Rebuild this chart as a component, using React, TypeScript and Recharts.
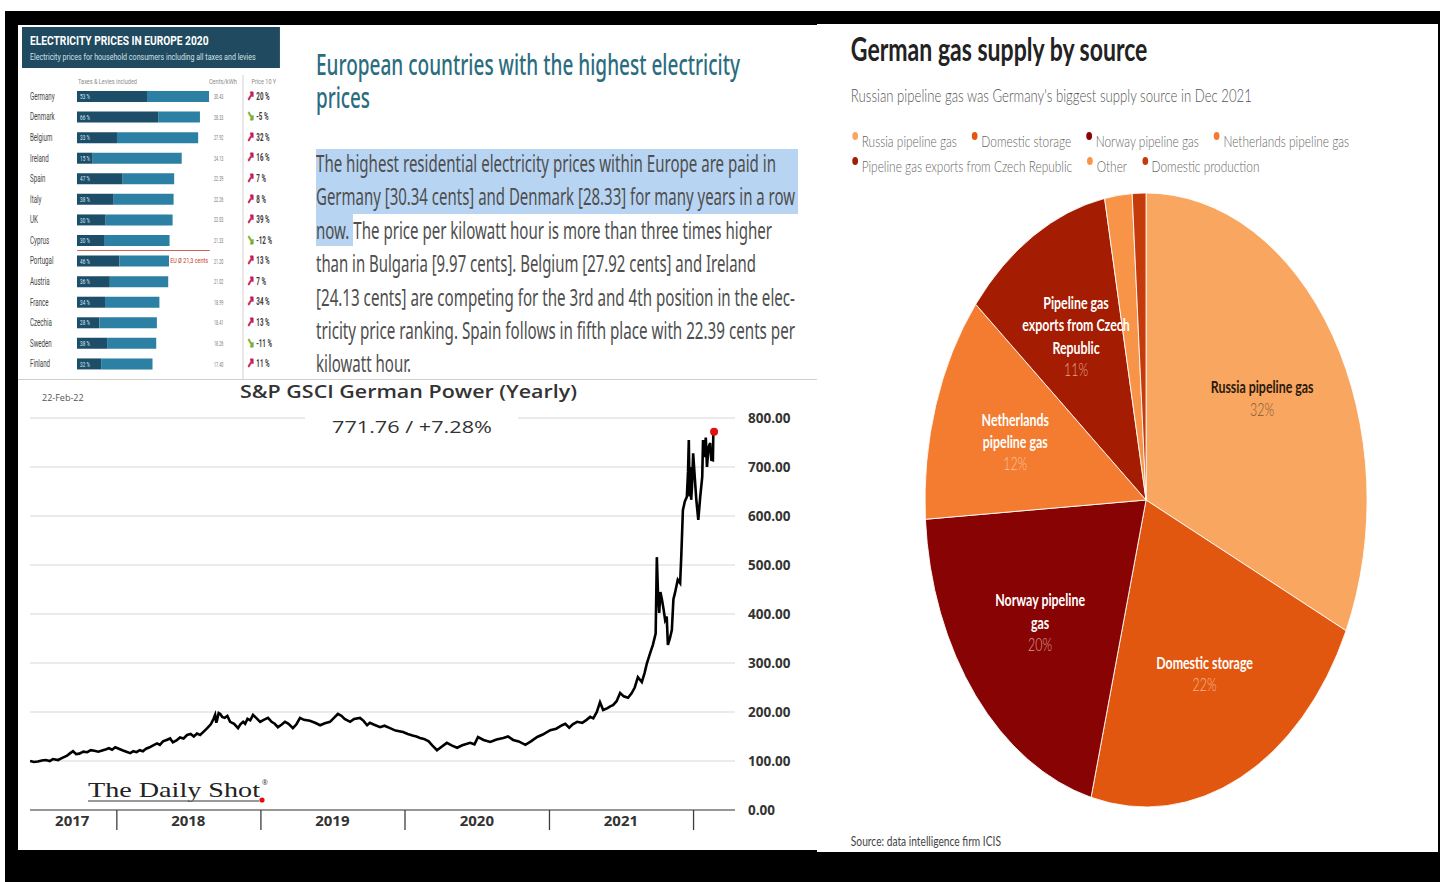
import React from 'react';
import {
  BarChart, Bar, XAxis, YAxis, LabelList,
  LineChart, Line, CartesianGrid, ReferenceDot,
  PieChart, Pie, Cell,
} from 'recharts';

// ---- Electricity prices in Europe 2020 (table chart) ----
const countries = ['Germany', 'Denmark', 'Belgium', 'Ireland', 'Spain', 'Italy', 'UK', 'Cyprus', 'Portugal', 'Austria', 'France', 'Czechia', 'Sweden', 'Finland'];
const centsPerKwh = [30.43, 28.33, 27.92, 24.13, 22.39, 22.26, 22.03, 21.33, 21.20, 21.02, 18.99, 18.41, 18.26, 17.40];
const taxShare = [53, 66, 33, 15, 47, 38, 30, 30, 46, 36, 34, 28, 38, 32];
const change10y = [20, -5, 32, 16, 7, 8, 39, -12, 13, 7, 34, 13, -11, 11];

// ---- S&P GSCI German Power (Yearly) ----
const powerDates = [
  '2017-05-26', '2017-06-05', '2017-06-15', '2017-06-25', '2017-07-05', '2017-07-15', '2017-07-23', '2017-08-05',
  '2017-08-12', '2017-08-20', '2017-08-28', '2017-09-05', '2017-09-12', '2017-09-20', '2017-09-28', '2017-10-08',
  '2017-10-18', '2017-10-27', '2017-11-05', '2017-11-15', '2017-11-27', '2017-12-05', '2017-12-12', '2017-12-20',
  '2017-12-28', '2018-01-06', '2018-01-15', '2018-01-25', '2018-02-04', '2018-02-12', '2018-02-20', '2018-02-28',
  '2018-03-08', '2018-03-16', '2018-03-25', '2018-04-03', '2018-04-13', '2018-04-20', '2018-04-28', '2018-05-07',
  '2018-05-16', '2018-05-23', '2018-06-01', '2018-06-10', '2018-06-19', '2018-06-28', '2018-07-07', '2018-07-15',
  '2018-07-23', '2018-07-31', '2018-08-09', '2018-08-18', '2018-08-27', '2018-09-03', '2018-09-07', '2018-09-10',
  '2018-09-12', '2018-09-16', '2018-09-20', '2018-09-25', '2018-10-01', '2018-10-08', '2018-10-15', '2018-10-25',
  '2018-11-04', '2018-11-10', '2018-11-17', '2018-11-22', '2018-11-28', '2018-12-05', '2018-12-12', '2018-12-20',
  '2018-12-30', '2019-01-08', '2019-01-19', '2019-01-28', '2019-02-05', '2019-02-13', '2019-02-22', '2019-03-03',
  '2019-03-12', '2019-03-23', '2019-04-01', '2019-04-10', '2019-04-20', '2019-05-05', '2019-05-18', '2019-05-31',
  '2019-06-12', '2019-06-25', '2019-07-05', '2019-07-15', '2019-07-24', '2019-08-01', '2019-08-08', '2019-08-15',
  '2019-08-25', '2019-09-09', '2019-09-18', '2019-09-27', '2019-10-04', '2019-10-15', '2019-10-30', '2019-11-10',
  '2019-11-24', '2019-12-08', '2019-12-27', '2020-01-08', '2020-01-20', '2020-01-30', '2020-02-08', '2020-02-18',
  '2020-03-01', '2020-03-10', '2020-03-22', '2020-04-01', '2020-04-16', '2020-04-28', '2020-05-12', '2020-05-25',
  '2020-06-14', '2020-06-25', '2020-07-04', '2020-07-18', '2020-08-04', '2020-08-20', '2020-09-06', '2020-09-18',
  '2020-10-01', '2020-10-15', '2020-11-01', '2020-11-15', '2020-12-01', '2020-12-15', '2021-01-03', '2021-01-18',
  '2021-02-02', '2021-02-10', '2021-02-20', '2021-03-01', '2021-03-12', '2021-03-25', '2021-04-05', '2021-04-14',
  '2021-04-22', '2021-05-01', '2021-05-09', '2021-05-17', '2021-05-28', '2021-06-05', '2021-06-11', '2021-06-20',
  '2021-06-29', '2021-07-08', '2021-07-19', '2021-07-28', '2021-08-05', '2021-08-13', '2021-08-23', '2021-08-30',
  '2021-09-05', '2021-09-13', '2021-09-20', '2021-09-27', '2021-09-30', '2021-10-03', '2021-10-06', '2021-10-09',
  '2021-10-13', '2021-10-17', '2021-10-21', '2021-10-25', '2021-10-28', '2021-11-02', '2021-11-07', '2021-11-11',
  '2021-11-15', '2021-11-22', '2021-11-28', '2021-12-01', '2021-12-05', '2021-12-10', '2021-12-15', '2021-12-18',
  '2021-12-20', '2021-12-22', '2021-12-24', '2021-12-26', '2021-12-28', '2021-12-31', '2022-01-04', '2022-01-08',
  '2022-01-13', '2022-01-18', '2022-01-23', '2022-01-25', '2022-01-29', '2022-02-01', '2022-02-04', '2022-02-08',
  '2022-02-12', '2022-02-15', '2022-02-19', '2022-02-20', '2022-02-22',
];
const powerValues = [
  100, 98, 99, 101, 102, 100, 104, 102,
  105, 108, 111, 116, 120, 114, 115, 119,
  118, 122, 121, 119, 122, 124, 126, 123,
  128, 125, 122, 119, 116, 120, 118, 122,
  120, 125, 128, 132, 136, 133, 140, 143,
  146, 138, 142, 148, 146, 153, 155, 150,
  156, 153, 160, 167, 175, 186, 194, 178,
  184, 198, 196, 190, 188, 192, 180, 176,
  167, 175, 180, 176, 186, 183, 194, 188,
  180, 184, 188, 180, 176, 169, 174, 180,
  176, 167, 175, 188, 184, 182, 178, 173,
  177, 180, 188, 196, 192, 186, 183, 180,
  186, 188, 182, 173, 178, 174, 169, 172,
  167, 162, 159, 155, 152, 150, 147, 145,
  140, 132, 122, 128, 137, 132, 127, 132,
  137, 134, 149, 143, 139, 144, 147, 150,
  143, 140, 133, 140, 149, 154, 163, 166,
  173, 176, 168, 175, 180, 178, 184, 190,
  187, 200, 220, 204, 208, 212, 214, 222,
  239, 232, 229, 238, 250, 271, 261, 280,
  300, 320, 337, 360, 516, 440, 402, 445,
  429, 410, 388, 395, 337, 350, 367, 430,
  443, 470, 463, 520, 612, 630, 639, 690,
  755, 640, 700, 633, 660, 728, 680, 633,
  592, 640, 680, 755, 720, 760, 700, 740,
  749, 715, 714, 765, 771.76,
];
const powerTicks = [0, 100, 200, 300, 400, 500, 600, 700, 800];
const yearBreaks = ['2018-01-01', '2019-01-01', '2020-01-01', '2021-01-01', '2022-01-01'];
const yearLabelDates = ['2017-09-10', '2018-07-01', '2019-07-01', '2020-07-01', '2021-07-01'];
const powerStart = '2017-05-26';
const powerEnd = '2022-04-16';

// ---- German gas supply by source ----
const gasSources = ['Russia pipeline gas', 'Domestic storage', 'Norway pipeline gas', 'Netherlands pipeline gas', 'Pipeline gas exports from Czech Republic', 'Other', 'Domestic production'];
const gasShares = [32, 22, 20, 12, 11, 2, 1];
const gasColors = ['#f8a660', '#e2570f', '#880303', '#f37c30', '#a41c02', '#f79448', '#c53a0b'];
const gasLabelLines = [['Russia pipeline gas'], ['Domestic storage'], ['Norway pipeline', 'gas'], ['Netherlands', 'pipeline gas'], ['Pipeline gas', 'exports from Czech', 'Republic'], [], []];

const FONT_TABLE = "Roboto, 'Noto Sans', sans-serif";
const FONT_TEXT = "'Noto Sans', 'Open Sans', sans-serif";
const FONT_POWER = "'Open Sans', 'Noto Sans', sans-serif";
const FONT_GAS = "Lato, 'Noto Sans', sans-serif";
const RADIAN = Math.PI / 180;

const tableRows = countries.map((country, i) => ({
  country,
  taxed: (centsPerKwh[i] * taxShare[i]) / 100,
  untaxed: centsPerKwh[i] * (1 - taxShare[i] / 100),
  share: taxShare[i],
}));

const powerRows = powerDates.map((d, i) => ({t: Date.parse(d), price: powerValues[i]}));
const powerXTicks = [...yearBreaks, ...yearLabelDates].map((d) => Date.parse(d)).sort((a, b) => a - b);

const gasRows = gasSources.map((name, i) => ({name, value: gasShares[i]}));

// table ticks (coordinates are in the un-squeezed table space)
const CountryTick = (props: any) => {
  const {y, payload} = props;
  return (
    <text x={12.9} y={y} dy={3.6} fontSize={10} fill="#454545" fontFamily={FONT_TABLE}>
      {payload.value}
    </text>
  );
};

const PriceTick = (props: any) => {
  const {y, payload} = props;
  const i = countries.indexOf(payload.value);
  const up = change10y[i] > 0;
  const col = up ? '#c2185b' : '#7cac2c';
  return (
    <g fontFamily={FONT_TABLE}>
      <text x={309.7} y={y} dy={2.8} fontSize={8} fill="#7a7a7a" textLength={15} lengthAdjust="spacingAndGlyphs">
        {centsPerKwh[i].toFixed(2)}
      </text>
      <text x={363} y={y} dy={4.5} fontSize={14} fontWeight={700} fill={col} stroke={col} strokeWidth={0.9} fontFamily="'DejaVu Sans', sans-serif">
        {up ? '\u2197' : '\u2198'}
      </text>
      <text x={378} y={y} dy={3.4} fontSize={10} fontWeight={700} fill="#3a3a3a">
        {`${change10y[i]} %`}
      </text>
    </g>
  );
};

const ShareLabel = (props: any) => {
  const {x, y, height, value} = props;
  return (
    <text x={Number(x) + 5} y={Number(y) + Number(height) / 2 + 2.6} fontSize={7.5} fill="#dceaf2" fontFamily={FONT_TABLE}>
      {`${value} %`}
    </text>
  );
};

function ElectricityTable() {
  return (
    <div style={{position: 'absolute', left: 4, top: 0, width: 416, height: 355, transform: 'scaleX(0.62)', transformOrigin: '0 0'}}>
      <div style={{position: 'absolute', left: 0, top: 2, width: 416, height: 41, background: '#1f4a5f'}} />
      <svg width={416} height={355} style={{position: 'absolute', left: 0, top: 0}} fontFamily={FONT_TABLE}>
        <text x={12.9} y={20.5} fontSize={13} fontWeight={700} fill="#ffffff" textLength={288} lengthAdjust="spacingAndGlyphs">
          ELECTRICITY PRICES IN EUROPE 2020
        </text>
        <text x={12.9} y={35} fontSize={9.5} fill="#d3e0e8" textLength={364} lengthAdjust="spacingAndGlyphs">
          Electricity prices for household consumers including all taxes and levies
        </text>
        <text x={138} y={59} textAnchor="middle" fontSize={8} fill="#8a8a8a" textLength={95} lengthAdjust="spacingAndGlyphs">
          Taxes &amp; Levies included
        </text>
        <text x={324} y={59} textAnchor="middle" fontSize={8} fill="#8a8a8a" textLength={45} lengthAdjust="spacingAndGlyphs">
          Cents/kWh
        </text>
        <text x={390} y={59} textAnchor="middle" fontSize={8} fill="#8a8a8a" textLength={40} lengthAdjust="spacingAndGlyphs">
          Price 10 Y
        </text>
        <line x1={356.5} x2={356.5} y1={50} y2={355} stroke="#d2d2d2" strokeWidth={1.6} />
      </svg>
      <div style={{position: 'absolute', left: 0, top: 61}}>
        <BarChart width={416} height={288} data={tableRows} layout="vertical" margin={{top: 0, right: 0, bottom: 0, left: 0}} barSize={11}>
          <XAxis type="number" hide domain={[0, 32]} />
          <YAxis yAxisId="l" type="category" dataKey="country" width={88.7} axisLine={false} tickLine={false} interval={0} tick={<CountryTick />} />
          <YAxis yAxisId="r" orientation="right" type="category" dataKey="country" width={103.3} axisLine={false} tickLine={false} interval={0} tick={<PriceTick />} />
          <Bar yAxisId="l" dataKey="taxed" stackId="a" fill="#1c4e69" isAnimationActive={false}>
            <LabelList dataKey="share" content={<ShareLabel />} />
          </Bar>
          <Bar yAxisId="l" dataKey="untaxed" stackId="a" fill="#2b80a3" isAnimationActive={false} />
        </BarChart>
      </div>
      {/* EU average marker between Cyprus and Portugal */}
      <div style={{position: 'absolute', left: 88.7, top: 225, width: 214, height: 1, background: '#d06060'}} />
      <svg width={416} height={355} style={{position: 'absolute', left: 0, top: 0}} fontFamily={FONT_TABLE}>
        <text x={239} y={238} fontSize={7.5} fill="#c0392b" textLength={61} lengthAdjust="spacingAndGlyphs">
          EU Ø 21,3 cents
        </text>
      </svg>
    </div>
  );
}

const bodyLines = [
  'The highest residential electricity prices within Europe are paid in',
  'Germany [30.34 cents] and Denmark [28.33] for many years in a row',
  'now. The price per kilowatt hour is more than three times higher',
  'than in Bulgaria [9.97 cents]. Belgium [27.92 cents] and Ireland',
  '[24.13 cents] are competing for the 3rd and 4th position in the elec-',
  'tricity price ranking. Spain follows in fifth place with 22.39 cents per',
  'kilowatt hour.',
];
const bodyWidths = [460, 479, 456, 440, 479, 479, 95];

function TopLeftPanel() {
  return (
    <div style={{position: 'absolute', left: 18, top: 25, width: 799, height: 355, background: '#fff', overflow: 'hidden', borderBottom: '1px solid #cfcfcf', boxSizing: 'border-box'}}>
      <ElectricityTable />
      <svg width={799} height={355} style={{position: 'absolute', left: 0, top: 0}}>
        <g transform="translate(-18,-25)" fontFamily={FONT_TEXT}>
          <text x={316} y={75} fontSize={28} fontWeight={500} fill="#2b6d7f" textLength={424} lengthAdjust="spacingAndGlyphs">
            European countries with the highest electricity
          </text>
          <text x={316} y={108} fontSize={28} fontWeight={500} fill="#2b6d7f" textLength={54} lengthAdjust="spacingAndGlyphs">
            prices
          </text>
          <rect x={316} y={149} width={482} height={65} fill="#b7d4f2" />
          <rect x={316} y={214} width={37} height={32} fill="#b7d4f2" />
          {bodyLines.map((ln, i) => (
            <text key={i} x={316} y={172 + i * 33.4} fontSize={23} fill="#4e4e4e" textLength={bodyWidths[i]} lengthAdjust="spacingAndGlyphs">
              {ln}
            </text>
          ))}
        </g>
      </svg>
    </div>
  );
}

const YearTick = (props: any) => {
  const {x, y, payload} = props;
  const d = new Date(payload.value);
  if (d.getUTCMonth() === 0 && d.getUTCDate() === 1) {
    return <line x1={x} x2={x} y1={y} y2={y + 20} stroke="#3d3d3d" strokeWidth={1.3} />;
  }
  return (
    <text x={x} y={y + 16} textAnchor="middle" fontSize={15} fontWeight={700} fill="#333" fontFamily={FONT_POWER}>
      {d.getUTCFullYear()}
    </text>
  );
};

function PowerPanel() {
  const lastIdx = powerValues.length - 1;
  return (
    <div style={{position: 'absolute', left: 18, top: 380, width: 799, height: 470, background: '#fff', overflow: 'hidden'}}>
      <div style={{position: 'absolute', left: 0, top: 0}}>
        <LineChart width={799} height={470} data={powerRows} margin={{top: 38, right: 0, bottom: 10, left: 12}}>
          <CartesianGrid vertical={false} stroke="#e4e4e4" strokeWidth={1.5} />
          <XAxis
            dataKey="t"
            type="number"
            domain={[Date.parse(powerStart), Date.parse(powerEnd)]}
            allowDataOverflow
            ticks={powerXTicks}
            interval={0}
            tick={<YearTick />}
            tickLine={false}
            tickSize={0}
            tickMargin={0}
            height={30}
            axisLine={{stroke: '#7b7b7b', strokeWidth: 1.5}}
          />
          <YAxis
            orientation="right"
            domain={[0, 800]}
            ticks={powerTicks}
            interval={0}
            width={82}
            axisLine={false}
            tickLine={false}
            tickSize={0}
            tickMargin={0}
            dx={13}
            tickFormatter={(v: number) => v.toFixed(2)}
            tick={{fontSize: 13.5, fontWeight: 700, fill: '#333', fontFamily: FONT_POWER}}
          />
          <Line type="linear" dataKey="price" stroke="#000" strokeWidth={2.6} dot={false} isAnimationActive={false} />
          <ReferenceDot x={Date.parse(powerDates[lastIdx])} y={powerValues[lastIdx]} r={4} fill="#e01010" stroke="none" />
        </LineChart>
      </div>
      <svg width={799} height={470} style={{position: 'absolute', left: 0, top: 0}} fontFamily={FONT_POWER}>
        <text x={24} y={21} fontSize={9} fill="#555">22-Feb-22</text>
        <text x={222} y={18} fontSize={18} fontWeight={600} fill="#333" textLength={337} lengthAdjust="spacingAndGlyphs">
          S&amp;P GSCI German Power (Yearly)
        </text>
        <rect x={287} y={28} width={213} height={32} fill="#fff" />
        <text x={314} y={53} fontSize={15.5} fontWeight={500} fill="#333" textLength={160} lengthAdjust="spacingAndGlyphs">
          771.76 / +7.28%
        </text>
        <text x={70} y={417} fontSize={22} fill="#222" fontFamily="'Liberation Serif', 'DejaVu Serif', serif" textLength={172} lengthAdjust="spacingAndGlyphs">
          The Daily Shot
        </text>
        <text x={244} y={405} fontSize={7} fill="#333">®</text>
        <line x1={70} x2={241} y1={421} y2={421} stroke="#777" strokeWidth={1.5} />
        <circle cx={244} cy={420} r={2.6} fill="#e01010" />
      </svg>
    </div>
  );
}

const renderGasLabel = (props: any) => {
  const {cx, cy, midAngle, outerRadius, index} = props;
  const lines = gasLabelLines[index] || [];
  if (lines.length === 0) return null;
  const r = outerRadius * 0.622;
  const x = cx + r * Math.cos(-midAngle * RADIAN);
  const y = cy + r * Math.sin(-midAngle * RADIAN);
  const all = [...lines, `${gasShares[index]}%`];
  const step = 22.3;
  const y0 = y - ((all.length - 1) * step) / 2;
  const dark = index === 0;
  return (
    <g fontFamily={FONT_GAS}>
      {all.map((ln, k) => {
        const isPct = k === lines.length;
        const fill = dark ? (isPct ? '#7d5834' : '#2a1a0c') : isPct ? 'rgba(255,225,210,0.7)' : '#ffffff';
        return (
          <text key={k} x={x} y={y0 + k * step} textAnchor="middle" dominantBaseline="central" fontSize={17.2} fontWeight={isPct ? 300 : 700} fill={fill}>
            {ln}
          </text>
        );
      })}
    </g>
  );
};

function GasPanel() {
  return (
    <div style={{position: 'absolute', left: 817, top: 24, width: 621, height: 828, background: '#fff', overflow: 'hidden'}}>
      <div style={{position: 'absolute', left: 0, top: 0, width: 863, height: 828, transform: 'scaleX(0.72)', transformOrigin: '0 0', fontFamily: FONT_GAS}}>
        <div style={{position: 'absolute', left: 0, top: 0}}>
          <PieChart width={863} height={828} margin={{top: 0, right: 0, bottom: 0, left: 0}}>
            <Pie
              data={gasRows}
              dataKey="value"
              nameKey="name"
              cx={457}
              cy={476}
              outerRadius={307}
              startAngle={90}
              endAngle={-270}
              stroke="#ffffff"
              strokeWidth={1}
              labelLine={false}
              label={renderGasLabel}
              isAnimationActive={false}
            >
              {gasRows.map((row, i) => (
                <Cell key={row.name} fill={gasColors[i]} />
              ))}
            </Pie>
          </PieChart>
        </div>
        <div style={{position: 'absolute', left: 47, top: 6, fontSize: 32, fontWeight: 700, color: '#222', whiteSpace: 'nowrap', lineHeight: '38px'}}>
          German gas supply by source
        </div>
        <div style={{position: 'absolute', left: 47, top: 60, fontSize: 18.3, fontWeight: 300, color: '#555', whiteSpace: 'nowrap', lineHeight: '22px'}}>
          Russian pipeline gas was Germany's biggest supply source in Dec 2021
        </div>
        <div style={{position: 'absolute', left: 49, top: 105, width: 780, display: 'flex', flexWrap: 'wrap', columnGap: 21, fontSize: 16.5, fontWeight: 300, color: '#666', lineHeight: '25px'}}>
          {gasSources.map((s, i) => (
            <span key={s} style={{display: 'inline-flex', alignItems: 'flex-start', whiteSpace: 'nowrap'}}>
              <span style={{display: 'inline-block', width: 8, height: 8, borderRadius: '50%', background: gasColors[i], marginTop: 3, marginRight: 5}} />
              {s}
            </span>
          ))}
        </div>
        <div style={{position: 'absolute', left: 47, top: 809, fontSize: 14.2, color: '#444', whiteSpace: 'nowrap', lineHeight: '16px'}}>
          Source: data intelligence firm ICIS
        </div>
      </div>
    </div>
  );
}

export default function App() {
  return (
    <div style={{position: 'absolute', left: 0, top: 0, width: 1440, height: 882, background: '#fff', overflow: 'hidden'}}>
      <div style={{position: 'absolute', left: 5, top: 11, width: 1435, height: 871, background: '#000'}} />
      <TopLeftPanel />
      <PowerPanel />
      <GasPanel />
    </div>
  );
}
